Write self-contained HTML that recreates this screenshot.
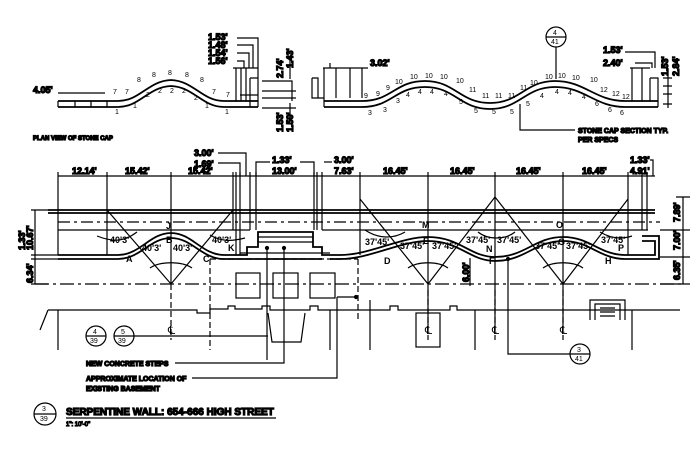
<!DOCTYPE html>
<html><head><meta charset="utf-8"><style>
html,body{margin:0;padding:0;background:#fff}
svg{display:block}
text{font-family:"Liberation Sans",sans-serif;fill:#000}
.s{font-size:9px;font-weight:bold}
.m{font-size:7px}
</style></head><body>
<svg width="700" height="449" viewBox="0 0 700 449" xmlns="http://www.w3.org/2000/svg" stroke="#000" fill="none" stroke-width="1.2">
<path d="M58 101 H118 C140 101 148 81 171 80 C194 81 202 101 224 101 H258" stroke-width="1.8"/>
<path d="M58 107 H118 C140 107 148 87 171 86 C194 87 202 107 224 107 H258" stroke-width="1.8"/>
<path d="M58 101 V107 M75 101V107 M91 101V107 M107 101V107 M258 68 V107 M250 78 V107 M240 95 H258 M250 78 H258"/>
<path d="M58 93 H105 M233 68 H258 M236 68 V101 M241 68V101 M246 68V101"/>
<path d="M237 38 H258 V68 M237 45 H253 V68 M237 53 H249 V68 M237 61 H244 V68"/>
<path d="M262 81 H292 V101 M262 91 H296 M262 98 H296 M262 108 H296 M290 60 V79 M290 103 V120"/>
<text class="s" x="33" y="93">4.05'</text>
<text class="s" x="208" y="40">1.53'</text><text class="s" x="208" y="48">1.48'</text>
<text class="s" x="208" y="56">1.54'</text><text class="s" x="208" y="64">1.56'</text>
<text class="s" transform="translate(283,78) rotate(-90)">2.74'</text>
<text class="s" transform="translate(293,68) rotate(-90)">1.43'</text>
<text class="s" transform="translate(283,132) rotate(-90)">1.53'</text>
<text class="s" transform="translate(293,132) rotate(-90)">1.50'</text>
<g class="m" stroke="none"><text x="113" y="94">7</text><text x="125" y="94">7</text><text x="137" y="82">8</text><text x="152" y="77">8</text><text x="168" y="75">8</text><text x="185" y="77">8</text><text x="200" y="82">8</text><text x="212" y="94">7</text><text x="226" y="97">7</text>
<text x="115" y="114">1</text><text x="133" y="108">1</text><text x="146" y="97">2</text><text x="158" y="93">2</text><text x="170" y="93">2</text><text x="182" y="93">2</text><text x="194" y="100">2</text><text x="205" y="108">1</text><text x="225" y="114">1</text></g>
<text x="33" y="140" style="font-size:6px;font-weight:bold">PLAN VIEW OF STONE CAP</text>
<path d="M324 101 H362 C392 101 395 81 425 81 C455 81 460 103 490 103 C520 103 525 81 555 81 C585 81 595 101 625 101 H658" stroke-width="1.8"/>
<path d="M324 107 H362 C392 107 395 87 425 87 C455 87 460 109 490 109 C520 109 525 87 555 87 C585 87 595 107 625 107 H658" stroke-width="1.8"/>
<path d="M312 78 H318 V98 H324 V107 M312 78 V98 H324 M650 78 H658 V107 M650 78 V101 M323 68 H362 M324 68V98 M336 68V98 M350 68V98 M362 68V98 M330 63 V68 H368"/>
<path d="M630 68 H650 M635 63 H652 V68 M625 52 H655 V68 M632 68 V101 M642 68V101"/>
<path d="M663 78 H672 M663 86 H672 M663 94 H672 M663 104 H672 M668 68V108"/>
<circle cx="556" cy="37" r="10"/>
<path d="M546 37 H566 M556 47 V79 M520 104 V130 H575"/><text class="m" x="553" y="35" stroke="none">4</text><text class="m" x="551" y="44" stroke="none">41</text>
<text class="s" x="370" y="66">3.02'</text><text class="s" x="603" y="53">1.53'</text><text class="s" x="603" y="66">2.40'</text>
<text class="s" transform="translate(668,76) rotate(-90)">1.53'</text><text class="s" transform="translate(679,76) rotate(-90)">2.84'</text>
<text x="578" y="133" style="font-size:7px;font-weight:bold">STONE CAP SECTION TYP.</text><text x="578" y="142" style="font-size:7px;font-weight:bold">PER SPECS</text>
<g class="m" stroke="none"><text x="364" y="98">9</text><text x="376" y="96">9</text><text x="386" y="90">9</text><text x="395" y="84">10</text><text x="410" y="79">10</text><text x="425" y="78">10</text><text x="440" y="79">10</text><text x="456" y="83">10</text><text x="469" y="92">11</text><text x="482" y="98">11</text><text x="495" y="98">11</text><text x="508" y="98">11</text><text x="520" y="90">11</text><text x="530" y="85">10</text><text x="545" y="79">10</text><text x="558" y="78">10</text><text x="572" y="80">10</text><text x="590" y="82">10</text><text x="600" y="92">12</text><text x="612" y="96">12</text><text x="622" y="99">12</text>
<text x="368" y="115">3</text><text x="383" y="112">3</text><text x="396" y="103">3</text><text x="406" y="97">4</text><text x="418" y="94">4</text><text x="430" y="94">4</text><text x="444" y="96">4</text><text x="459" y="104">5</text><text x="474" y="113">5</text><text x="492" y="114">5</text><text x="510" y="114">5</text><text x="526" y="106">5</text><text x="540" y="98">4</text><text x="555" y="94">4</text><text x="568" y="95">4</text><text x="582" y="99">4</text><text x="595" y="106">6</text><text x="608" y="112">6</text><text x="620" y="115">6</text></g>
<path d="M58 176 H655"/>
<path d="M58 172V255 M107 172V255 M171 172V284 M233 172V230 M236 172V255 M240 172V255 M250 172V230 M256 172V230 M314 172V230 M317 172V230 M322 172V230 M360 172V255 M428 172V330 M495 172V330 M563 172V330 M628 172V255 M642 172V230 M647 172V230"/>
<text class="s" x="72" y="174">12.14'</text><text class="s" x="125" y="174">15.42'</text><text class="s" x="188" y="174">15.42'</text>
<text class="s" x="194" y="156">3.00'</text><text class="s" x="194" y="167">1.69'</text><path d="M218 153 H246 V176 M218 163 H240 V176"/>
<text class="s" x="272" y="163">1.33'</text><text class="s" x="272" y="174">13.00'</text><path d="M256 176 V162 H270 M300 162 H314 V176"/>
<text class="s" x="334" y="163">3.00'</text><text class="s" x="334" y="174">7.63'</text><path d="M324 162 H332"/>
<text class="s" x="383" y="174">16.45'</text><text class="s" x="450" y="174">16.45'</text><text class="s" x="516" y="174">16.45'</text><text class="s" x="582" y="174">16.45'</text>
<text class="s" x="630" y="163">1.33'</text><text class="s" x="630" y="174">4.91'</text><path d="M650 160 H653 V176"/>
<path d="M48 210 H655 M48 213 H655" stroke-width="1.8"/>
<path d="M58 222 H660" stroke-dasharray="12 4 3 4"/>
<path d="M58 230 H250 M322 230 H648"/>
<path d="M58 255 H118 C140 255 150 233 171 233 C192 233 202 255 224 255 H247 V247 H258 V232 H313 V247 H322 V255 H340 C370 255 400 237 428 237 C460 237 470 257 495 257 C525 257 535 237 563 237 C590 237 600 255 625 255 H655 V241 H642" stroke-width="1.8"/>
<path d="M58 259 H118 C140 259 150 238 171 238 C192 238 202 259 224 259 H322 M330 259 H340 C370 259 400 241 428 241 C460 241 470 261 495 261 C525 261 535 241 563 241 C590 241 600 259 625 259 H659 V236 H642" stroke-width="1.8"/>
<path d="M258 237 H313 M258 242 H313 M240 253 H330"/>
<path d="M107 210 L171 284 L233 210 M360 199 L428 284 L495 197 L563 284 L628 199"/>
<path d="M97 236 C115 243 125 241 137 232 M210 235 C220 241 230 242 245 238 M150 268 C160 261 182 261 192 268 M365 230 C380 240 395 238 405 232 M478 232 C488 240 505 240 515 232 M408 268 C418 261 438 261 448 268 M543 268 C553 261 573 261 583 268 M600 232 C610 238 620 240 632 236"/>
<g class="s" stroke="none"><text x="110" y="243">40'3'</text><text x="142" y="251">40'3'</text><text x="173" y="251">40'3'</text><text x="212" y="243">40'3'</text>
<text x="365" y="245">37'45'</text><text x="400" y="249">37'45'</text><text x="432" y="249">37'45'</text><text x="466" y="243">37'45'</text><text x="497" y="243">37'45'</text><text x="535" y="249">37'45'</text><text x="566" y="249">37'45'</text><text x="601" y="243">37'45'</text>
<text x="126" y="262">A</text><text x="166" y="243">B</text><text x="203" y="262">C</text><text x="166" y="229">J</text><text x="228" y="251">K</text>
<text x="384" y="264">D</text><text x="423" y="244">E</text><text x="422" y="228">M</text><text x="489" y="264">F</text><text x="486" y="252">N</text><text x="556" y="228">O</text><text x="558" y="245">G</text><text x="605" y="264">H</text><text x="618" y="251">P</text></g>
<path d="M35 210 V284 M31 210 H48 M31 255 H58 M31 259 H58 M31 284 H48 M683 197 V284 M676 197 H690 M660 230 H690 M660 257 H690 M660 284 H690 M470 258 V286"/>
<text class="s" transform="translate(33,250) rotate(-90)">10.67'</text><text class="s" transform="translate(25,250) rotate(-90)">1.33'</text><text class="s" transform="translate(33,283) rotate(-90)">6.34'</text>
<text class="s" transform="translate(680,222) rotate(-90)">7.89'</text><text class="s" transform="translate(680,250) rotate(-90)">7.00'</text><text class="s" transform="translate(680,280) rotate(-90)">6.35'</text>
<text class="s" transform="translate(469,282) rotate(-90)">6.00'</text>
<path d="M35 284 H683" stroke-dasharray="14 4 3 4"/>
<path d="M210 259 V350 M358 259 V320 M210 259 H358 M171 284 V340 M428 290 V340 M495 290 V340 M563 290 V340" stroke-dasharray="6 3"/>
<rect x="236" y="273" width="24" height="25"/><rect x="273" y="273" width="25" height="25"/><rect x="310" y="273" width="25" height="25"/>
<path d="M48 310 H197 V313 H210 V309 H228 V306 H235 V309 H262 V306 H270 V310 H310 V306 H318 V310 H390 V306 H398 V310 H450 V306 H457 V310 H680"/>
<path d="M48 310 L40 330 M58 310 V350 M330 310 V350 M370 300 V350 M475 310 V350 M632 310 V350"/>
<path d="M268 313 L272 342 H301 L305 313"/><rect x="416" y="313" width="24" height="34"/>
<path d="M590 320 V300 H625 V320 M595 320 V304 H620 V320 M600 308 H615 M600 312 H615 M600 316 H615"/>
<g style="font-size:11px" stroke="none"><text x="168" y="334">℄</text><text x="425" y="334">℄</text><text x="492" y="334">℄</text><text x="560" y="334">℄</text></g>
<circle cx="96" cy="336" r="10"/><circle cx="124" cy="336" r="10"/><path d="M86 336 H106 M114 336 H134 H268"/>
<g class="m" stroke="none"><text x="93" y="334">4</text><text x="90" y="343">39</text><text x="121" y="334">5</text><text x="118" y="343">39</text></g>
<path d="M267 248 V360 M284 248 V363 H175 M337 297 H356 M337 297 V378 H192"/>
<circle cx="267" cy="248" r="1.5" fill="#000"/><circle cx="284" cy="248" r="1.5" fill="#000"/><circle cx="356" cy="297" r="1.5" fill="#000"/>
<text x="86" y="366" style="font-size:7px;font-weight:bold">NEW CONCRETE STEPS</text>
<text x="86" y="381" style="font-size:7px;font-weight:bold">APPROXIMATE LOCATION OF</text><text x="86" y="391" style="font-size:7px;font-weight:bold">EXISTING BASEMENT</text>
<circle cx="580" cy="354" r="10"/><path d="M570 354 H590 M570 354 H508 V259"/><circle cx="508" cy="259" r="1.5" fill="#000"/>
<g class="m" stroke="none"><text x="577" y="352">3</text><text x="575" y="361">41</text></g>
<circle cx="45" cy="414" r="11"/><path d="M34 414 H56 M66 418 H276"/>
<g class="m" stroke="none"><text x="42" y="411">3</text><text x="40" y="421">39</text></g>
<text x="66" y="415" style="font-size:10px;font-weight:bold">SERPENTINE WALL: 654-666 HIGH STREET</text>
<text x="66" y="426" style="font-size:6px">1": 10'-0"</text>
</svg>
</body></html>
